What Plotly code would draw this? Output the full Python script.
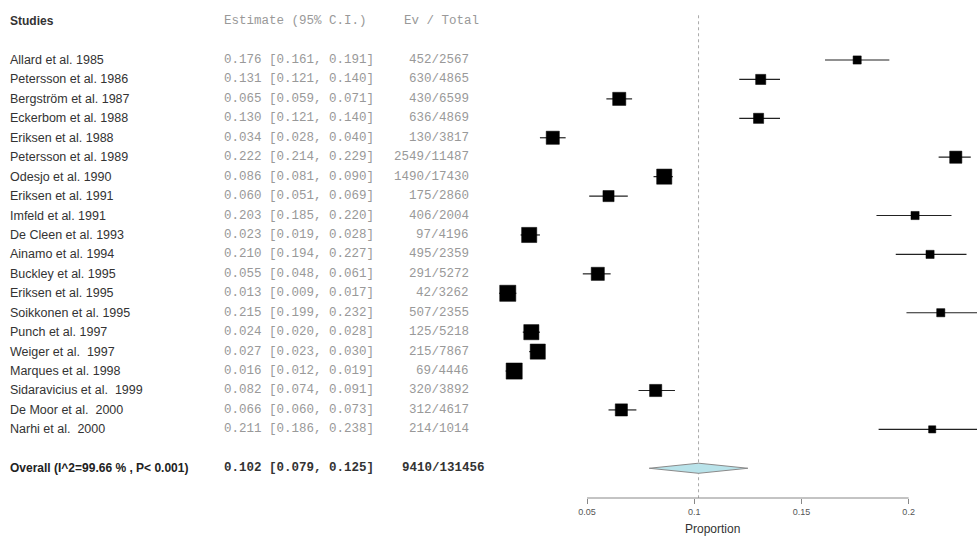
import plotly.graph_objects as go

# ---------------- data ----------------
studies = [
    "Allard et al. 1985", "Petersson et al. 1986", "Bergström et al. 1987",
    "Eckerbom et al. 1988", "Eriksen et al. 1988", "Petersson et al. 1989",
    "Odesjo et al. 1990", "Eriksen et al. 1991", "Imfeld et al. 1991",
    "De Cleen et al. 1993", "Ainamo et al. 1994", "Buckley et al. 1995",
    "Eriksen et al. 1995", "Soikkonen et al. 1995", "Punch et al. 1997",
    "Weiger et al.  1997", "Marques et al. 1998", "Sidaravicius et al.  1999",
    "De Moor et al.  2000", "Narhi et al.  2000",
]
estimate = [0.176, 0.131, 0.065, 0.130, 0.034, 0.222, 0.086, 0.060, 0.203, 0.023,
            0.210, 0.055, 0.013, 0.215, 0.024, 0.027, 0.016, 0.082, 0.066, 0.211]
ci_lower = [0.161, 0.121, 0.059, 0.121, 0.028, 0.214, 0.081, 0.051, 0.185, 0.019,
            0.194, 0.048, 0.009, 0.199, 0.020, 0.023, 0.012, 0.074, 0.060, 0.186]
ci_upper = [0.191, 0.140, 0.071, 0.140, 0.040, 0.229, 0.090, 0.069, 0.220, 0.028,
            0.227, 0.061, 0.017, 0.232, 0.028, 0.030, 0.019, 0.091, 0.073, 0.238]
events = [452, 630, 430, 636, 130, 2549, 1490, 175, 406, 97,
          495, 291, 42, 507, 125, 215, 69, 320, 312, 214]
totals = [2567, 4865, 6599, 4869, 3817, 11487, 17430, 2860, 2004, 4196,
          2359, 5272, 3262, 2355, 5218, 7867, 4446, 3892, 4617, 1014]
weights = [2.2, 3.4, 5.7, 3.4, 5.7, 4.9, 7.6, 4.1, 2.2, 7.6,
           2.2, 5.7, 8.6, 2.2, 7.6, 7.6, 8.6, 4.9, 4.9, 1.7]

overall_label = "Overall (I^2=99.66 % , P< 0.001)"
overall_est, overall_lo, overall_hi = 0.102, 0.079, 0.125
overall_events, overall_total = 9410, 131456

tick_vals = [0.05, 0.1, 0.15, 0.2]
tick_text = ["0.05", "0.1", "0.15", "0.2"]
x_title = "Proportion"
headers = ["Studies", "Estimate (95% C.I.)", "Ev / Total"]

# ---------------- layout helpers ----------------
W, H = 977, 539
n = len(studies)
rows = list(range(n))
overall_row = n + 1
header_row = -2

def px(x):
    return x / W

SANS = "Liberation Sans, Arial, sans-serif"
MONO = "Liberation Mono, Courier New, monospace"

fig = go.Figure()

# reference (dotted) line at overall estimate
fig.add_trace(go.Scatter(
    x=[overall_est, overall_est], y=[-2.3, 22.53], mode="lines",
    line=dict(color="#aaaaaa", width=1, dash="dot"), hoverinfo="skip", showlegend=False))

# confidence-interval segments
ci_x, ci_y = [], []
for i in rows:
    ci_x += [ci_lower[i], ci_upper[i], None]
    ci_y += [i, i, None]
fig.add_trace(go.Scatter(x=ci_x, y=ci_y, mode="lines",
                         line=dict(color="#222222", width=1.2), showlegend=False))

# study estimates (box area ~ weight)
sizes = [5.5 * (w ** 0.5) for w in weights]
fig.add_trace(go.Scatter(
    x=estimate, y=rows, mode="markers",
    marker=dict(symbol="square", color="black", size=sizes, opacity=1,
                line=dict(width=0.5, color="black")),
    showlegend=False))

# overall diamond
dh = 0.26
fig.add_trace(go.Scatter(
    x=[overall_lo, overall_est, overall_hi, overall_est, overall_lo],
    y=[overall_row, overall_row - dh, overall_row, overall_row + dh, overall_row],
    mode="lines", fill="toself", fillcolor="#b9e3ea",
    line=dict(color="#8a8a8a", width=1), showlegend=False))

ann = []
# headers
ann.append(dict(x=px(8), y=header_row, xref="paper", yref="y", text=f"<b>{headers[0]}</b>",
                xanchor="left", showarrow=False, font=dict(family=SANS, size=12, color="#333")))
ann.append(dict(x=px(222), y=header_row, xref="paper", yref="y", text=headers[1],
                xanchor="left", showarrow=False, font=dict(family=MONO, size=12.5, color="#999")))
ann.append(dict(x=px(481), y=header_row, xref="paper", yref="y", text=headers[2],
                xanchor="right", showarrow=False, font=dict(family=MONO, size=12.5, color="#999")))

for i in rows:
    ann.append(dict(x=px(8), y=i, xref="paper", yref="y", text=studies[i].replace(" ", "\u00a0"),
                    xanchor="left", showarrow=False, font=dict(family=SANS, size=12.5, color="#333")))
    ann.append(dict(x=px(222), y=i, xref="paper", yref="y",
                    text=f"{estimate[i]:.3f} [{ci_lower[i]:.3f}, {ci_upper[i]:.3f}]".replace(" ", "\u00a0"),
                    xanchor="left", showarrow=False, font=dict(family=MONO, size=12.5, color="#999")))
    ann.append(dict(x=px(471), y=i, xref="paper", yref="y", text=f"{events[i]}/{totals[i]}",
                    xanchor="right", showarrow=False, font=dict(family=MONO, size=12.5, color="#999")))

ann.append(dict(x=px(8), y=overall_row, xref="paper", yref="y", text=f"<b>{overall_label}</b>",
                xanchor="left", showarrow=False, font=dict(family=SANS, size=12, color="#222")))
ann.append(dict(x=px(222), y=overall_row, xref="paper", yref="y",
                text=f"<b>{overall_est:.3f} [{overall_lo:.3f}, {overall_hi:.3f}]</b>".replace(" ", "\u00a0"),
                xanchor="left", showarrow=False, font=dict(family=MONO, size=12.5, color="#333")))
ann.append(dict(x=px(487), y=overall_row, xref="paper", yref="y",
                text=f"<b>{overall_events}/{overall_total}</b>",
                xanchor="right", showarrow=False, font=dict(family=MONO, size=12.5, color="#333")))
ann.append(dict(x=px(742), y=(H - 529) / H, xref="paper", yref="paper", text=x_title,
                yanchor="middle", showarrow=False, font=dict(family=SANS, size=12, color="#333")))

# axis line only between first and last tick
shapes = [dict(type="line", xref="x", yref="paper", x0=tick_vals[0], x1=tick_vals[-1],
               y0=(H - 498) / H, y1=(H - 498) / H, line=dict(color="#888", width=1))]

fig.update_layout(
    width=W, height=H, margin=dict(l=0, r=0, t=0, b=0),
    paper_bgcolor="white", plot_bgcolor="white",
    annotations=ann, shapes=shapes,
    xaxis=dict(domain=[497 / W, 1], range=[0.00798, 0.2319], showgrid=False, zeroline=False,
               showline=False, tickvals=tick_vals, ticktext=tick_text, ticks="outside",
               ticklen=5, tickcolor="#888", tickfont=dict(family=SANS, size=9, color="#555"),
               automargin=False),
    yaxis=dict(domain=[(H - 498) / H, 1], range=[22.53, -3.086], visible=False,
               showgrid=False, zeroline=False, automargin=False),
)

fig.write_html("out.html")
